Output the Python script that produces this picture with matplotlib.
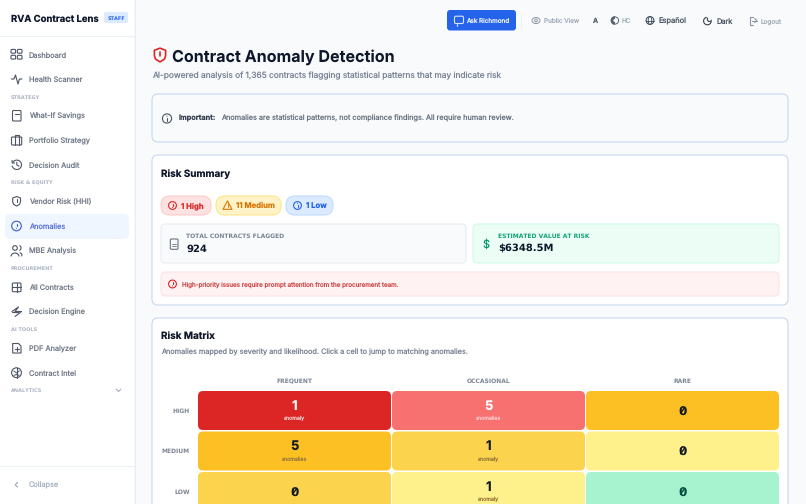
import matplotlib
matplotlib.use("Agg")
import matplotlib.pyplot as plt
from matplotlib.patches import FancyBboxPatch, Circle, Polygon, Arc, Rectangle

plt.rcParams["text.hinting"] = "no_hinting"
plt.rcParams["text.hinting_factor"] = 1

# ---------- content ----------
brand = "RVA Contract Lens"
staff = "STAFF"
nav_labels = ["Dashboard", "Health Scanner", "What-If Savings", "Portfolio Strategy", "Decision Audit",
              "Vendor Risk (HHI)", "Anomalies", "MBE Analysis", "All Contracts", "Decision Engine",
              "PDF Analyzer", "Contract Intel"]
nav_section_labels = ["STRATEGY", "RISK & EQUITY", "PROCUREMENT", "AI TOOLS", "ANALYTICS"]
top_labels = ["Public View", "A", "HC", "Español", "Dark", "Logout"]
title = "Contract Anomaly Detection"
subtitle = "AI-powered analysis of 1,365 contracts flagging statistical patterns that may indicate risk"
badge_labels = ["1 High", "11 Medium", "1 Low"]
flagged_total = "924"
value_at_risk = "$6348.5M"
likelihoods = ["FREQUENT", "OCCASIONAL", "RARE"]
severities = ["HIGH", "MEDIUM", "LOW"]
high_counts = [1, 5, 0]
medium_counts = [5, 1, 0]
low_counts = [0, 1, 0]
high_colors = ["#dc2626", "#f87171", "#fcbf24"]
medium_colors = ["#fcbf24", "#fcd34d", "#fef08a"]
low_colors = ["#fcd34d", "#fef08a", "#a7f3d0"]

# ---------- canvas in screen pixels ----------
W, H = 806, 504
fig = plt.figure(figsize=(W / 100, H / 100), dpi=100, facecolor="#f8fafc")
ax = fig.add_axes([0, 0, 1, 1])
ax.set_xlim(0, W)
ax.set_ylim(H, 0)
ax.axis("off")

F = ["Inter", "DejaVu Sans"]
WIDE = ["DejaVu Sans"]


def T(x, y, s, px, color="#111827", weight="normal", ha="left", family=None, **kw):
    return ax.text(x, y + 0.4, s, fontsize=px * 0.72, color=color, fontweight=weight, ha=ha, va="center_baseline",
                   family=family or F, **kw)


def R(x0, y0, x1, y1, fc, ec="none", r=4, lw=0.8, z=1):
    p = FancyBboxPatch((x0, y0), x1 - x0, y1 - y0, boxstyle=f"round,pad=0,rounding_size={r}",
                       fc=fc, ec=ec, lw=lw, zorder=z)
    ax.add_patch(p)
    return p


def L(xs, ys, c, lw=0.8):
    ax.plot(xs, ys, color=c, lw=lw, solid_capstyle="round", solid_joinstyle="round", zorder=5)


def ring(x, y, r, c, lw=0.8, fc="none"):
    ax.add_patch(Circle((x, y), r, fc=fc, ec=c, lw=lw, zorder=5))


def alert_icon(x, y, c, r=4.6, lw=0.8):
    ring(x, y, r, c, lw)
    L([x, x], [y - r * .45, y + r * .1], c, lw)
    L([x, x + .01], [y + r * .48, y + r * .5], c, lw)


def info_icon(x, y, c, r=4.6, lw=0.8):
    ring(x, y, r, c, lw)
    L([x, x], [y - r * .1, y + r * .45], c, lw)
    L([x, x + .01], [y - r * .5, y - r * .48], c, lw)


def shield(x, y, c, s=1.0, lw=0.8, fc="none"):
    xs = [0, 4.6, 4.6, 3.6, 0, -3.6, -4.6, -4.6, 0]
    ys = [-5.6, -3.9, 0.6, 3.4, 5.6, 3.4, 0.6, -3.9, -5.6]
    ax.add_patch(Polygon([(x + a * s, y + b * s) for a, b in zip(xs, ys)], closed=True, fc=fc, ec=c, lw=lw,
                         joinstyle="round", zorder=5))


# ---------- sidebar ----------
ax.add_patch(Rectangle((0, 0), 134, H, fc="white", ec="none", zorder=0))
L([134.5, 134.5], [0, H], "#e8ecf2", 0.8)
L([0, 134], [35.5, 35.5], "#eceff3", 0.8)
L([0, 134], [465.5, 465.5], "#eceff3", 0.8)

T(11, 18, brand, 9.5, "#0f172a", "bold", family=F)
R(104, 12, 128, 23, "#dbeafe", r=2)
T(116, 17.3, staff, 5.2, "#2563eb", "bold", ha="center", family=WIDE)

nav_y = [54.5, 79, 115.5, 140, 164.5, 201, 226, 250.5, 287, 311.5, 348, 372.5]
section_y = [96.5, 182, 268, 329, 390]
R(5, 214, 129, 239, "#eff6ff", r=5, z=1)
for lab, y in zip(nav_labels, nav_y):
    active = lab == "Anomalies"
    T(29, y, lab, 7.4, "#5b75d6" if active else "#737b88")
for lab, y in zip(nav_section_labels, section_y):
    T(11, y, lab, 5.0, "#aab4c2", "bold", family=WIDE)
L([116, 118.5, 121], [389, 391.5, 389], "#9aa5b4", 0.7)

ic = "#4b5563"
cx = 16.5
# Dashboard
for dx, dy in [(-3.2, -3.2), (3.2, -3.2), (-3.2, 2.7), (3.2, 2.7)]:
    R(cx + dx - 2.3, 54.5 + dy - 1.9, cx + dx + 2.3, 54.5 + dy + 1.9, "none", ic, r=1, z=5)
# Health Scanner
L([11.5, 14, 15.5, 18, 19.5, 22], [79, 79, 75, 84, 79, 79], ic)
# What-if savings
R(12.5, 110.5, 21, 121, "none", ic, r=1, z=5)
L([14.5, 19], [113.5, 113.5], ic)
for a in (14.5, 16.8, 19):
    for b in (116, 118.3):
        L([a, a + .01], [b, b], ic, 0.9)
# Portfolio
R(11.5, 137, 21.7, 145, "none", ic, r=1, z=5)
L([14.5, 14.5, 18.7, 18.7], [137, 134.7, 134.7, 137], ic)
L([14.5, 14.5], [137, 145], ic)
L([18.7, 18.7], [137, 145], ic)
# Decision audit
ax.add_patch(Arc((16.8, 164.8), 9.4, 9.4, theta1=-150, theta2=170, ec=ic, lw=0.8, zorder=5))
L([12, 12.2, 14.6], [160.5, 163, 163], ic)
L([16.8, 16.8, 19], [162.3, 165, 166.2], ic)
# Vendor risk
shield(16.6, 201.3, ic, .85)
L([16.6, 16.6], [199, 201.5], ic)
L([16.6, 16.61], [203.5, 203.5], ic)
# Anomalies
alert_icon(16.5, 226, "#3b5ccc", 4.8)
# MBE
ring(15, 248, 2.3, ic)
ax.add_patch(Arc((15, 256.5), 8, 7, theta1=180, theta2=360, ec=ic, lw=0.8, zorder=5))
ax.add_patch(Arc((19, 248), 4, 5, theta1=-80, theta2=80, ec=ic, lw=0.8, zorder=5))
L([20, 21.8, 21.8], [252.8, 254, 256], ic)
# All contracts
R(12.3, 283, 21, 291.7, "none", ic, r=1, z=5)
L([12.3, 21], [287.3, 287.3], ic)
L([16.6, 16.6], [283, 291.7], ic)
# Decision engine
L([12, 18.5, 15, 21.5, 15], [311.5, 307, 311.5, 311.5, 316.5], ic)
L([12, 18, 14], [311.5, 311.5, 311.5], ic)
# PDF analyzer
ax.add_patch(Polygon([(12.7, 343.5), (18.5, 343.5), (21, 346), (21, 353), (12.7, 353)], closed=True, fc="none",
                     ec=ic, lw=0.8, joinstyle="round", zorder=5))
L([16.8, 16.8], [346.8, 350.8], ic)
L([14.8, 18.8], [348.8, 348.8], ic)
# Contract Intel
ring(16.5, 372.7, 4.9, ic)
L([16.5, 16.5], [367.8, 377.6], ic)
L([13.8, 16.5, 19.2], [371, 373, 371], ic, 0.7)
L([13.8, 16.5, 19.2], [375.4, 374.5, 375.4], ic, 0.7)
# Collapse
L([17.5, 15.2, 17.5], [482.5, 484.8, 487], "#9aa5b4", 0.8)
T(29, 484.5, "Collapse", 7.4, "#aab4c2")

# ---------- top bar ----------
R(447, 10, 516, 30.5, "#2563eb", r=3)
R(454.5, 16.2, 463.5, 23.5, "none", "#dbe7ff", r=1.4, z=5)
L([456.5, 456.5], [23.5, 25.5], "#dbe7ff")
T(466.5, 20.3, "Ask Richmond", 6.3, "#e4ecff", "medium")
L([521, 521], [13, 28], "#eceff3", 0.7)
gr = "#8b95a3"
ax.add_patch(Arc((536, 20.5), 8, 6, fc="none", ec=gr, lw=0.7, zorder=5))
ring(536, 20.5, 1.4, gr, 0.7)
T(544, 20.3, top_labels[0], 6.4, "#a8b0bb")
T(594.5, 20.3, top_labels[1], 6.8, "#5b6472", "bold", ha="center")
ring(615, 20.5, 3.6, "#5b6472", 0.7)
ax.add_patch(Arc((615, 20.5), 6, 6, theta1=90, theta2=270, ec="#5b6472", lw=2.0, zorder=5))
T(621.8, 20.3, top_labels[2], 6.4, "#a8b0bb")
ring(650, 20.5, 3.9, "#374151", 0.7)
L([646.1, 653.9], [20.5, 20.5], "#374151", 0.6)
ax.add_patch(Arc((650, 20.5), 3.6, 7.8, ec="#374151", lw=0.6, zorder=5))
T(659, 20.3, top_labels[3], 7.5, "#4b5563")
ax.add_patch(Arc((707.4, 21), 7.6, 7.6, theta1=-20, theta2=260, ec="#374151", lw=0.8, zorder=5))
ax.add_patch(Arc((709.6, 19.2), 4.6, 4.6, theta1=60, theta2=220, ec="#374151", lw=0.8, zorder=5))
T(716.5, 20.3, top_labels[4], 7.4, "#4b5563")
L([752.5, 749.5, 749.5, 752.5], [16.5, 16.5, 24.5, 24.5], gr)
L([752, 756.5], [20.5, 20.5], gr)
L([754.8, 756.8, 754.8], [18.5, 20.5, 22.5], gr)
T(761, 20.3, top_labels[5], 6.4, "#a8b0bb")

# ---------- heading ----------
shield(160, 55, "#dc2626", 1.22, 1.2)
L([160, 160], [51.5, 55.5], "#dc2626", 1.2)
L([160, 160.01], [58.5, 58.5], "#dc2626", 1.3)
T(172, 54.6, title, 16.1, "#0f172a", "bold")
T(152, 74, subtitle, 8.35, "#7b8494")

# ---------- important notice ----------
R(152, 94, 788, 142, "#f8fafc", "#c9d8ee", r=6)
info_icon(167, 118.5, "#4b5563", 4.6)
T(179, 117, "Important:", 7.3, "#374151", "bold")
T(221, 117, "Anomalies are statistical patterns, not compliance findings. All require human review.", 7.3, "#6b7280")

# ---------- risk summary ----------
R(152, 155, 788, 305, "white", "#c9d8ee", r=6)
T(161, 172.5, "Risk Summary", 9.9, "#0f172a", "bold")
badge_x = [(161, 211), (216, 281), (286, 333)]
badge_fc = ["#fee2e2", "#fef3c7", "#dbeafe"]
badge_ec = ["#fecaca", "#fde68a", "#bfdbfe"]
badge_tc = ["#dc2626", "#d97706", "#2563eb"]
for (a, b), fc, ec, tc, lab in zip(badge_x, badge_fc, badge_ec, badge_tc, badge_labels):
    R(a, 196, b, 215, fc, ec, r=9)
    T(a + 20 if lab != badge_labels[1] else a + 19.5, 205, lab, 7.7, tc, "bold")
alert_icon(172.5, 205.5, badge_tc[0], 3.9)
ax.add_patch(Polygon([(227.5, 201), (232, 209.3), (223, 209.3)], closed=True, fc="none", ec=badge_tc[1], lw=0.8,
                     joinstyle="round", zorder=5))
L([227.5, 227.5], [203.5, 206.5], badge_tc[1], 0.7)
info_icon(297.5, 205.5, badge_tc[2], 3.9)

R(161, 224, 466, 263, "#f8fafc", "#e8ecf2", r=4)
R(473, 224, 779, 263, "#ecfdf5", "#d1fae5", r=4)
T(186, 235.7, "TOTAL CONTRACTS FLAGGED", 6.1, "#7b8494", "bold", family=WIDE)
T(186, 247.5, flagged_total, 10, "#0f172a", "bold", family=WIDE)
T(498.5, 235.4, "ESTIMATED VALUE AT RISK", 6.2, "#10a376", "bold", family=WIDE)
T(498.5, 247.5, value_at_risk, 10, "#0f172a", "bold", family=WIDE)
R(170.3, 239, 178, 249.3, "none", "#6b7280", r=1.2, z=5)
L([172, 176], [243.5, 243.5], "#6b7280", .6)
L([172, 176], [246, 246], "#6b7280", .6)
T(486, 243.5, "$", 11, "#059669", ha="center")

R(161, 272, 779, 296, "#fef2f2", "#fde2e2", r=4)
alert_icon(172.5, 284, "#dc2626", 3.9)
T(182, 283.7, "High-priority issues require prompt attention from the procurement team.", 6.25, "#cc4a4a")

# ---------- risk matrix ----------
R(152, 318, 788, 560, "white", "#c9d8ee", r=6)
T(161, 335, "Risk Matrix", 9.9, "#0f172a", "bold")
T(161, 350.7, "Anomalies mapped by severity and likelihood. Click a cell to jump to matching anomalies.", 7.3, "#7b8494")

col_left, col_step, cell_w = 198, 194, 193
row_top, row_step, cell_h = 391, 40.5, 39
counts = [high_counts, medium_counts, low_counts]
colors = [high_colors, medium_colors, low_colors]
for j, lab in enumerate(likelihoods):
    T(col_left + j * col_step + cell_w / 2, 380.5, lab, 6.4, "#7b8494", "bold", ha="center", family=WIDE)
for i, sev in enumerate(severities):
    yc = row_top + i * row_step + cell_h / 2
    T(190, yc - 0.7, sev, 6.4, "#7b8494", "bold", ha="right", family=WIDE)
    for j in range(3):
        x0 = col_left + j * col_step
        y0 = row_top + i * row_step
        col = colors[i][j]
        R(x0, y0, x0 + cell_w, y0 + cell_h, col, r=5)
        n = counts[i][j]
        xc = x0 + cell_w / 2
        if n == 0:
            zc = "#064e3b" if col == "#a7f3d0" else "#111827"
            T(xc, yc, "0", 12, zc, "bold", ha="center", family=WIDE)
            L([xc - 2, xc + 2], [yc + 2.8, yc - 2.8], zc, 1.0)
        else:
            light = col in ("#dc2626", "#f87171")
            T(xc, yc - 6, str(n), 13, "white" if light else "#111827", "bold", ha="center")
            T(xc, yc + 7, "anomaly" if n == 1 else "anomalies", 5.3, "#fbc6c6" if light else "#9a7b3a", ha="center")

fig.savefig("out.png", dpi=100, facecolor=fig.get_facecolor())
